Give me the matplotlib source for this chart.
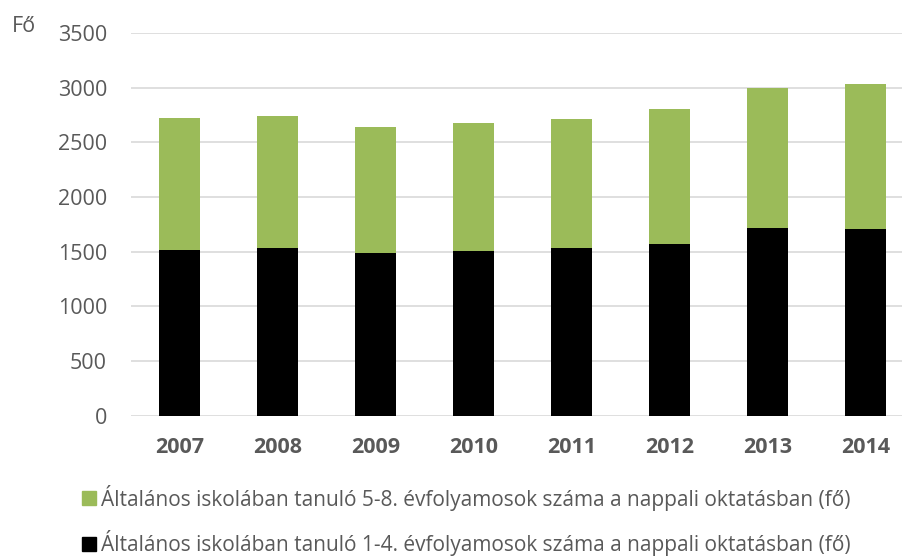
import matplotlib.pyplot as plt
from matplotlib.patches import Patch

# létszámadatok évenként (fő)
evek = ['2007', '2008', '2009', '2010', '2011', '2012', '2013', '2014']
also_tagozat = [1514, 1535, 1486, 1507, 1535, 1574, 1715, 1708]     # 1-4. évfolyam
felso_tagozat = [1212, 1206, 1152, 1173, 1176, 1228, 1279, 1329]    # 5-8. évfolyam

cimke_felso = 'Általános iskolában tanuló 5-8. évfolyamosok száma a nappali oktatásban (fő)'
cimke_also = 'Általános iskolában tanuló 1-4. évfolyamosok száma a nappali oktatásban (fő)'

zold = '#9BBB59'
fekete = '#000000'
szurke = '#595959'
meret = 15.5

plt.rcParams['font.family'] = ['Open Sans', 'DejaVu Sans']

fig = plt.figure(figsize=(9.03, 5.56), dpi=100)
ax = fig.add_axes([0.1447, 0.252, 0.868, 0.6887])

x = range(len(evek))
ax.bar(x, also_tagozat, width=0.418, color=fekete, zorder=3)
ax.bar(x, felso_tagozat, width=0.418, bottom=also_tagozat, color=zold, zorder=3)

ax.set_xlim(-0.5, len(evek) - 0.5)
ax.set_ylim(0, 3500)
ax.set_yticks(range(0, 3501, 500))
ax.set_xticks(list(x))
ax.set_xticklabels(evek, fontweight='bold')
ax.yaxis.grid(True, color='#D9D9D9', linewidth=1.2, zorder=0)
ax.tick_params(axis='y', length=0, labelsize=meret, labelcolor=szurke, pad=17)
ax.tick_params(axis='x', length=0, labelsize=meret, labelcolor=szurke, pad=15)
for s in ax.spines.values():
    s.set_visible(False)

fig.text(0.0133, 0.953, 'Fő', fontsize=meret, color=szurke, va='center')

# jelmagyarázat két sorban, a zöld sorozat felül
kezelok = [Patch(color=zold), Patch(color=fekete)]
fig.legend(kezelok, [cimke_felso, cimke_also], loc='lower left',
           bbox_to_anchor=(0.0905, 0.0), frameon=False, fontsize=15,
           labelcolor=szurke, handlelength=0.67, handleheight=0.67,
           handletextpad=0.24, labelspacing=0.93, borderaxespad=0, borderpad=0)

plt.savefig('out.png', dpi=100)
